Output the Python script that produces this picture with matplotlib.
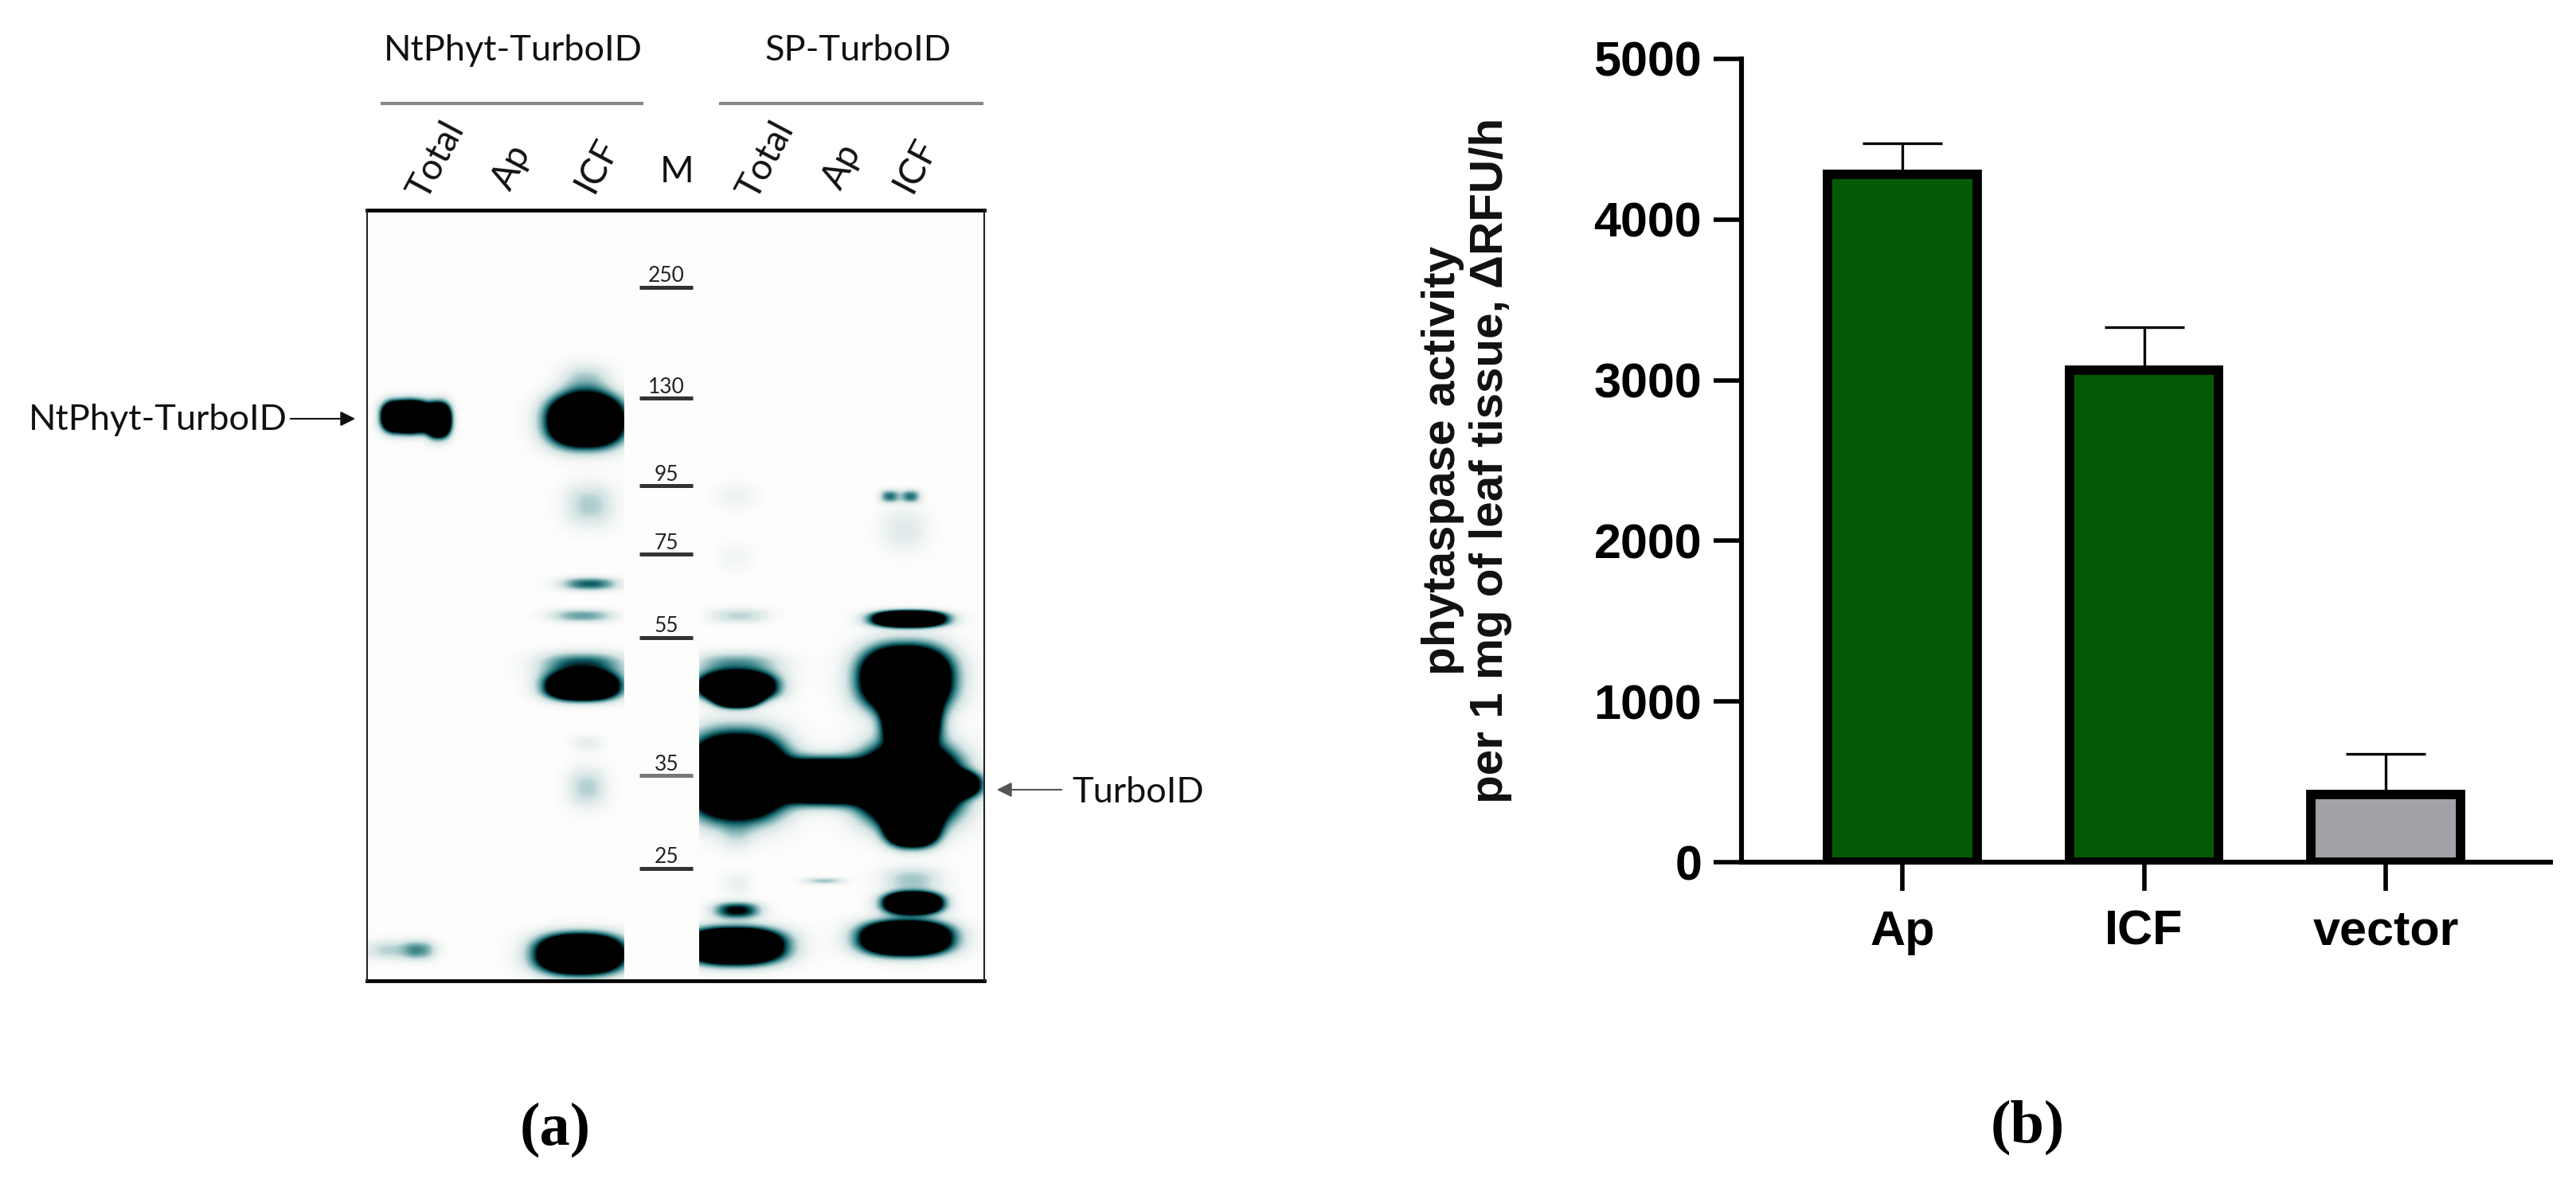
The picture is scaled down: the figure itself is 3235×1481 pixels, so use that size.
import numpy as np
import matplotlib
matplotlib.use("Agg")
import matplotlib.pyplot as plt
from matplotlib.colors import LinearSegmentedColormap

W, H = 3235, 1481

# ---- panel b data ----
groups = ["Ap", "ICF", "vector"]
activity = [4282, 3062, 421]
activity_top = [4477, 3330, 674]
bar_colors = ["#045a04", "#045a04", "#a3a2a8"]
y_ticks = [0, 1000, 2000, 3000, 4000, 5000]

# ---- panel a data: gel bands, in gel pixels ----
band_x = [498, 522, 550, 735, 735, 740, 740, 731, 731, 731, 737, 737, 728, 490, 527,
          923, 923, 928, 925, 925, 925, 925, 925, 1035, 1137, 1144, 1142, 1186, 1145,
          1141, 1117, 1143, 1135, 1035, 1145, 1146, 1137, 925, 922, 925]
band_y = [523, 523, 527, 528, 480, 634, 733, 773, 862, 836, 933, 989, 1198, 1193, 1193,
          623, 700, 773, 836, 862, 874, 975, 1050, 981, 852, 905, 985, 985, 1040,
          777, 623, 623, 665, 1106, 1105, 1134, 1178, 1143, 1188, 1110]
band_w = [17, 15, 14, 42, 30, 30, 34, 38, 40, 50, 18, 24, 48, 32, 20,
          25, 20, 35, 52, 42, 24, 55, 20, 50, 50, 30, 56, 36, 28,
          40, 12, 12, 28, 25, 36, 32, 50, 28, 54, 18]
band_h = [17, 17, 19, 29, 22, 26, 8, 8, 15, 16, 10, 24, 22, 12, 12,
          16, 16, 9, 16, 15, 12, 47, 18, 24, 36, 28, 44, 14, 20,
          9, 8, 8, 26, 4, 16, 12, 19, 10, 20, 14]
band_amp = [3, 3, 3, 3, .3, .28, .6, .42, 3, .7, .12, .27, 3, .26, .42,
            .08, .06, .25, .5, 3, 3, 3, .14, 3, 3, 3, 3, 3, 3,
            3, .55, .55, .15, .3, .3, 3, 3, .85, 3, .1]

marker_sizes = ["250", "130", "95", "75", "55", "35", "25"]
marker_y = [361, 500, 610, 696, 801, 974, 1091]
marker_colors = ["#333333", "#333333", "#333333", "#333333", "#333333", "#777777", "#333333"]
lane_labels = ["Total", "Ap", "ICF", "Total", "Ap", "ICF"]
lane_x = [548, 643, 750, 962, 1058, 1150]
lane_y = [201, 210, 207, 201, 209, 207]


def gel_density(xx, yy):
    d = np.zeros_like(xx, dtype=float)
    for x, y, w, h, a in zip(band_x, band_y, band_w, band_h, band_amp):
        core = (np.abs(xx - x) / w)**2.4 + (np.abs(yy - y) / h)**2.4
        d += a * np.exp(-core)
    # white lane where the marker was cut in
    d[(xx > 783) & (xx < 878)] = 0
    return np.clip(d, 0, 1)


def main():
    plt.rcParams["font.family"] = ["Liberation Sans", "DejaVu Sans"]
    fig = plt.figure(figsize=(W / 100, H / 100), dpi=100, facecolor="white")

    # ---- overlay in pixel coordinates ----
    pix = fig.add_axes([0, 0, 1, 1])
    pix.set_xlim(0, W)
    pix.set_ylim(H, 0)
    pix.axis("off")

    gel_cmap = LinearSegmentedColormap.from_list(
        "gel", ["#fdfdfb", "#d5e4e4", "#6fa8aa", "#0d5f66", "#000000", "#000000"])
    gx, gy = np.meshgrid(np.arange(461, 1236), np.arange(264, 1232))
    pix.imshow(gel_density(gx, gy), extent=(461, 1236, 1232, 264), cmap=gel_cmap,
               vmin=0, vmax=1, aspect="auto", interpolation="bilinear")
    pix.set_xlim(0, W)
    pix.set_ylim(H, 0)

    # gel frame
    pix.plot([461, 1236], [264, 264], color="black", lw=3.4)
    pix.plot([461, 1236], [1232, 1232], color="black", lw=3.4)
    pix.plot([461, 461], [264, 1232], color="#222222", lw=1.5)
    pix.plot([1236, 1236], [264, 1232], color="#222222", lw=1.5)

    lato = ["Lato", "DejaVu Sans"]
    pix.text(644, 63, "NtPhyt-TurboID", family=lato, fontsize=32.5, ha="center", va="center", color="#111111")
    pix.text(1078, 63, "SP-TurboID", family=lato, fontsize=32.5, ha="center", va="center", color="#111111")
    pix.plot([480, 806], [130, 130], color="#888888", lw=3)
    pix.plot([905, 1233], [130, 130], color="#888888", lw=3)

    for name, x, y in zip(lane_labels, lane_x, lane_y):
        pix.text(x, y, name, family=lato, fontsize=33, rotation=62, ha="center", va="center", color="#111111")
    pix.text(850, 216, "M", family=lato, fontsize=33, ha="center", va="center", color="#111111")

    for size, y, c in zip(marker_sizes, marker_y, marker_colors):
        pix.plot([803, 870], [y, y], color=c, lw=3.6, solid_capstyle="butt")
        pix.text(837, y - 14, size, family=lato, fontsize=19, ha="center", va="center", color="#222222")

    pix.text(198, 527, "NtPhyt-TurboID", family=lato, fontsize=32.5, ha="center", va="center", color="#111111")
    pix.annotate("", xy=(449, 526), xytext=(362, 526),
                 arrowprops=dict(arrowstyle="-|>", color="#111111", lw=1.5, mutation_scale=28))
    pix.text(1429, 995, "TurboID", family=lato, fontsize=32.5, ha="center", va="center", color="#111111")
    pix.annotate("", xy=(1249, 992), xytext=(1336, 992),
                 arrowprops=dict(arrowstyle="-|>", color="#555555", lw=1.5, mutation_scale=28))

    serif = ["Liberation Serif", "DejaVu Serif"]
    pix.text(697, 1419, "(a)", family=serif, fontweight="bold", fontsize=55, ha="center", va="center")
    pix.text(2546, 1416, "(b)", family=serif, fontweight="bold", fontsize=55, ha="center", va="center")

    pix.text(1842, 578, "phytaspase activity\nper 1 mg of leaf tissue, \u0394RFU/h",
             fontsize=42, fontweight="bold", rotation=90, ha="center", va="center",
             multialignment="center", linespacing=1.12, color="#111111")

    # ---- bar chart ----
    ax = fig.add_axes([2187 / W, 1 - 1083 / H, (3203 - 2187) / W, (1083 - 74) / H])
    ax.patch.set_alpha(0)
    x = np.arange(len(groups))
    xerr_up = np.array(activity_top) - np.array(activity)
    ax.errorbar(x, activity, yerr=[np.zeros(3), xerr_up], fmt="none", ecolor="black",
                elinewidth=2.4, capsize=36, capthick=2.4, zorder=1)
    ax.bar(x, activity, width=0.617, color=bar_colors, edgecolor="black", linewidth=8.5, zorder=2)

    ax.set_xlim(-(2389 - 2187) / 303.5, (3203 - 2389) / 303.5)
    ax.set_ylim(0, 5000)
    ax.set_yticks(y_ticks)
    ax.set_xticks(x)
    ax.set_xticklabels(groups)
    for side in ["top", "right"]:
        ax.spines[side].set_visible(False)
    for side in ["left", "bottom"]:
        ax.spines[side].set_linewidth(4.4)
    ax.tick_params(axis="y", length=25, width=4, pad=11, labelsize=44)
    ax.tick_params(axis="x", length=26, width=4, pad=17, labelsize=44)
    for lab in ax.get_xticklabels() + ax.get_yticklabels():
        lab.set_fontweight("bold")

    fig.savefig("out.png", dpi=100)


if __name__ == "__main__":
    main()
